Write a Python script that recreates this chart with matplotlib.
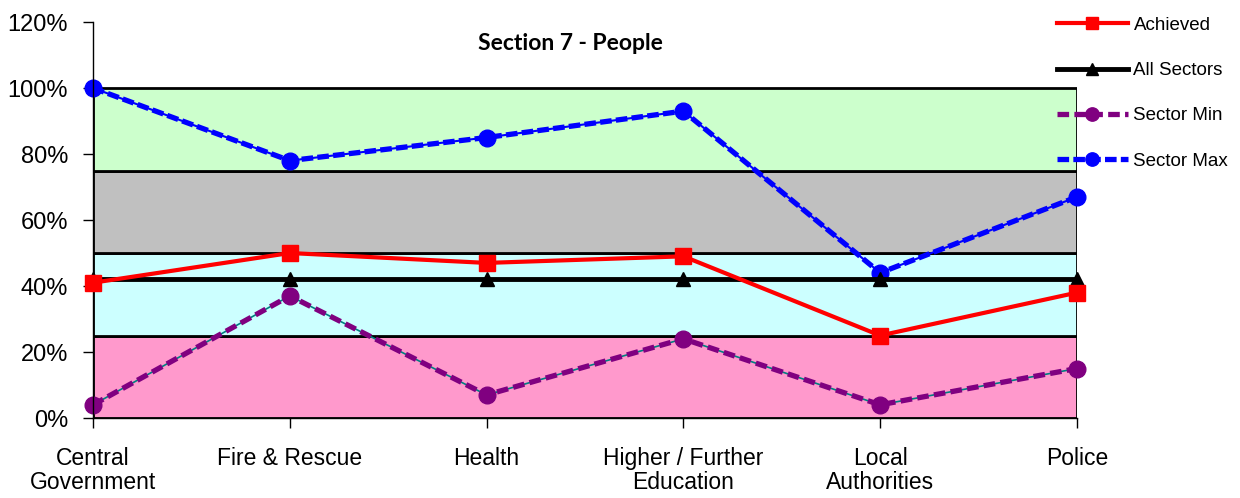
import matplotlib
matplotlib.use("Agg")
import matplotlib.pyplot as plt
from matplotlib.ticker import MultipleLocator, FuncFormatter

plt.rcParams["font.family"] = ["Liberation Sans", "DejaVu Sans"]

sectors = ["Central\nGovernment", "Fire & Rescue", "Health",
           "Higher / Further\nEducation", "Local\nAuthorities", "Police"]
achieved = [41, 50, 47, 49, 25, 38]
all_sectors = [42, 42, 42, 42, 42, 42]
sector_min = [4, 37, 7, 24, 4, 15]
sector_max = [100, 78, 85, 93, 44, 67]

# performance bands: (low, high, colour)
band_edges = [0, 25, 50, 75, 100]
band_colours = ["#FF99CC", "#CCFFFF", "#C0C0C0", "#CCFFCC"]

fig = plt.figure(figsize=(12.4, 4.98), dpi=100)
ax = fig.add_axes([0.075, 0.1606, 0.7935, 0.7952])

x = list(range(len(sectors)))

for lo, hi, col in zip(band_edges[:-1], band_edges[1:], band_colours):
    ax.axhspan(lo, hi, facecolor=col, edgecolor="black", linewidth=2, zorder=0)

ax.plot(x, achieved, color="#FF0000", lw=3, marker="s", ms=11,
        label="Achieved", clip_on=False, zorder=4)
ax.plot(x, all_sectors, color="black", lw=3.5, marker="^", ms=10,
        label="All Sectors", clip_on=False, zorder=3)

# min/max lines: a thin solid core under a thick dashed stroke
ax.plot(x, sector_min, color="#008080", lw=1.2, clip_on=False, zorder=2)
ax.plot(x, sector_min, color="#800080", lw=3.8, ls=(0, (2.2, 1)), marker="o",
        ms=12, label="Sector Min", clip_on=False, zorder=2.5)
ax.plot(x, sector_max, color="#0000FF", lw=1.5, clip_on=False, zorder=2)
ax.plot(x, sector_max, color="#0000FF", lw=3.8, ls=(0, (2.2, 0.8)), marker="o",
        ms=12, label="Sector Max", clip_on=False, zorder=2.5)

ax.set_xlim(0, len(sectors) - 1)
ax.set_ylim(0, 120)
ax.yaxis.set_major_locator(MultipleLocator(20))
ax.yaxis.set_major_formatter(FuncFormatter(lambda v, p: f"{v:.0f}%"))
ax.set_xticks(x)
ax.set_xticklabels(sectors, fontsize=16.5, linespacing=1.05)
ax.tick_params(axis="y", labelsize=17, direction="out", length=7, width=1,
               pad=11)
ax.tick_params(axis="x", direction="out", length=7, width=1, pad=14)

for side in ["top", "right"]:
    ax.spines[side].set_visible(False)
ax.spines["left"].set_linewidth(1)
ax.spines["bottom"].set_linewidth(1)

ax.text(0.485, 0.947, "Section 7 - People", transform=ax.transAxes,
        ha="center", va="center", fontsize=16.5, fontweight="bold",
        family=["Lato", "DejaVu Sans"])

leg = fig.legend(loc="upper left", bbox_to_anchor=(0.8385, 1.0), frameon=False,
                 fontsize=13.5, labelspacing=1.5, handlelength=3.8,
                 handletextpad=0.3, markerscale=0.8)

fig.savefig("out.png", dpi=100)
